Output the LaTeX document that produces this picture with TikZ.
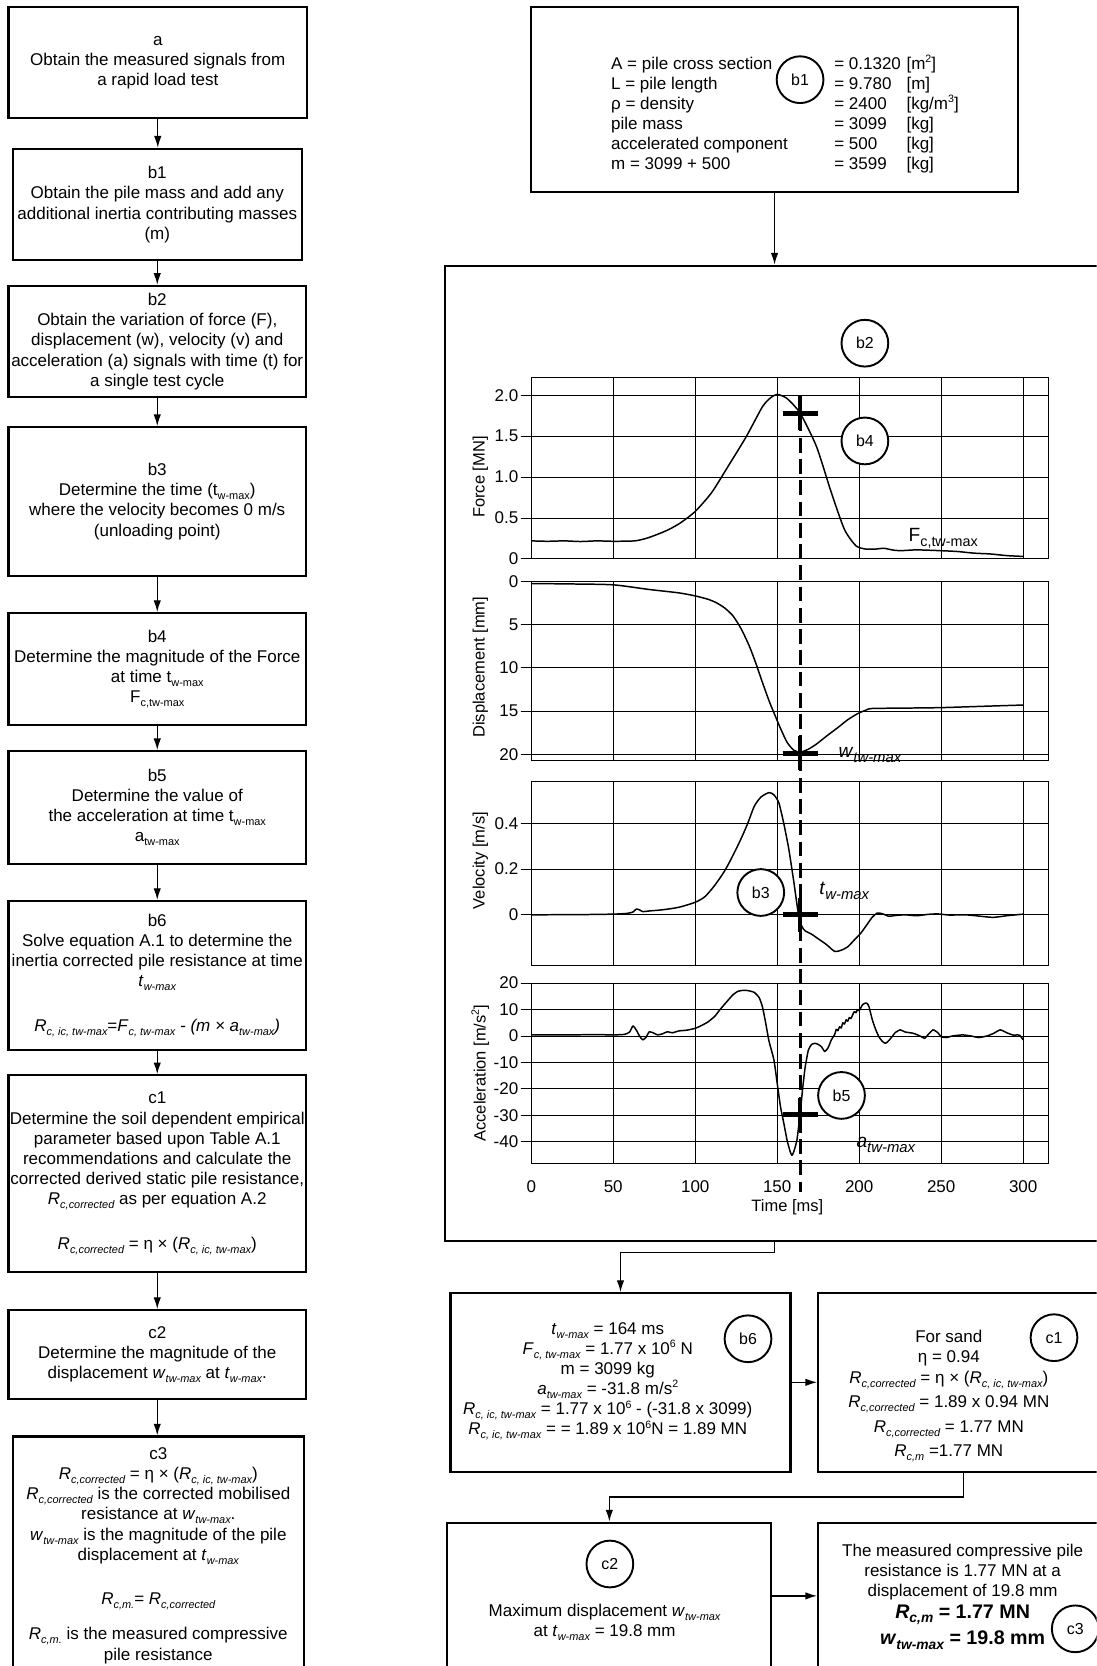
\documentclass[tikz,border=0pt]{standalone}
\usepackage{fontspec}
\setmainfont{Liberation Sans}
\usetikzlibrary{arrows.meta,calc}
\newcommand{\lo}[1]{\raisebox{-0.45ex}{\fontsize{10.3}{10.3}\selectfont #1}}
\newcommand{\il}[1]{\raisebox{-0.45ex}{\fontsize{10.3}{10.3}\selectfont\itshape #1}}
\newcommand{\hi}[1]{\raisebox{0.75ex}{\fontsize{10}{10}\selectfont #1}}
\newcommand{\sbs}[2]{\raisebox{-0.45ex}{\fontsize{#1}{#1}\selectfont #2}}
\begin{document}
\begin{tikzpicture}[x=1pt,y=-1pt,
  box/.style={draw, line width=2pt, align=center, inner sep=0pt, font=\fontsize{16}{19}\selectfont},
  txt/.style={align=center, inner sep=0pt, font=\fontsize{16}{19}\selectfont},
  ltxt/.style={anchor=base west, inner sep=0pt, font=\fontsize{16}{19}\selectfont},
  circ/.style={draw, fill=white, circle, line width=1.8pt, minimum size=44pt, inner sep=0pt, font=\fontsize{15}{15}\selectfont},
  arr/.style={line width=1.2pt, -{Latex[length=11pt,width=7pt]}},
  grd/.style={line width=0.8pt},
  crv/.style={line width=1.4pt, line join=round},
  tick/.style={inner sep=0pt, font=\fontsize{16}{16}\selectfont},
  ylab/.style={rotate=90, inner sep=0pt, font=\fontsize{15.5}{15.5}\selectfont},
  crossbar/.style={line width=4.5pt},
]
\useasboundingbox (0,0) rectangle (1032,1568);
\clip (0,0) rectangle (1032,1568);

% ---------------- left column ----------------
\node[box, minimum width=281pt, minimum height=104pt] (a) at (148.5,59) {a\\Obtain the measured signals from\\a rapid load test};
\node[box, minimum width=272pt, minimum height=105pt] (b1) at (148,192.5) {b1\\Obtain the pile mass and add any\\additional inertia contributing masses\\(m)};
\node[box, minimum width=280pt, minimum height=105pt] (b2) at (148,321.5) {b2\\Obtain the variation of force (F),\\displacement (w), velocity (v) and\\acceleration (a) signals with time (t) for\\a single test cycle};
\node[box, minimum width=280pt, minimum height=140pt] (b3) at (148,472) {b3\\Determine the time (t\lo{w-max})\\where the velocity becomes 0 m/s\\(unloading point)};
\node[box, minimum width=280pt, minimum height=105pt] (b4) at (148,629.5) {b4\\Determine the magnitude of the Force\\at time t\lo{w-max}\\F\lo{c,tw-max}};
\node[box, minimum width=280pt, minimum height=106pt] (b5) at (148,760) {b5\\Determine the value of\\the acceleration at time t\lo{w-max}\\a\lo{tw-max}};
\node[box, minimum width=280pt, minimum height=140pt] (b6) at (148,918) {b6\\Solve equation A.1 to determine the\\inertia corrected pile resistance at time\\\textit{t}\il{w-max}\\[23pt]\textit{R}\il{c, ic, tw-max}=\textit{F}\il{c, tw-max} \textit{- (m} \textit{×} \textit{a}\il{tw-max}\textit{)}};
\node[box, minimum width=280pt, minimum height=185pt] (c1) at (148,1104.5) {c1\\Determine the soil dependent empirical\\parameter based upon Table A.1\\recommendations and calculate the\\corrected derived static pile resistance,\\\textit{R}\il{c,corrected} as per equation A.2\\[23pt]\textit{R}\il{c,corrected} = η × (\textit{R}\il{c, ic, tw-max})};
\node[box, minimum width=280pt, minimum height=84pt] (c2) at (148,1275) {c2\\Determine the magnitude of the\\displacement \textit{w}\il{tw-max} at \textit{t}\il{w-max}.};
\node[box, minimum width=274pt, minimum height=224pt] (c3) at (149,1464) {c3\\\textit{R}\il{c,corrected} = η × (\textit{R}\il{c, ic, tw-max})\\\textit{R}\il{c,corrected} is the corrected mobilised\\resistance at \textit{w}\il{tw-max}.\\\textit{w}\il{tw-max} is the magnitude of the pile\\displacement at \textit{t}\il{w-max}\\[23pt]\textit{R}\il{c,m.}= \textit{R}\il{c,corrected}\\[14pt]\textit{R}\il{c,m.} is the measured compressive\\pile resistance};

\foreach \u/\v in {a/b1,b1/b2,b2/b3,b3/b4,b4/b5,b5/b6,b6/c1,c1/c2,c2/c3}
  \draw[arr] (\u.south) -- (\u.south |- \v.north);

% ---------------- top right box ----------------
\node[box, minimum width=458pt, minimum height=174pt] (b1box) at (729,94) {};
\foreach \l [count=\i from 0] in {A = pile cross section, L = pile length, ρ = density, pile mass, accelerated component, m = 3099 + 500}
  \node[ltxt] (pl\i) at (575,{65+19*\i}) {\l};
\foreach \l [count=\i from 0] in {= 0.1320, = 9.780, = 2400, = 3099, = 500, = 3599}
  \node[ltxt] (pv\i) at (785,{65+19*\i}) {\l};
\foreach \l [count=\i from 0] in {{[m\hi{2}]}, [m], {[kg/m\hi{3}]}, [kg], [kg], [kg]}
  \node[ltxt] (pu\i) at (853,{65+19*\i}) {\l};
\node[circ] (cb1) at (753,75) {b1};

% ---------------- plot box ----------------
\node[draw, line width=2pt, minimum width=625pt, minimum height=918pt, inner sep=0pt] (plotbox) at (731.5,709) {};
\draw[arr] (b1box.south) -- (b1box.south |- plotbox.north);

% Force panel
\begin{scope}[shift={(500pt,-526pt)}, x=1.5433pt, y=77pt]
  \foreach \t in {50,100,...,300} \draw[grd] (\t,0) -- (\t,2.22);
  \foreach \f in {0,0.5,1,1.5,2} \draw[grd] (-6.5,\f) -- (315.6,\f);
  \draw[grd] (0,0) rectangle (315.6,2.22);
  \foreach \f/\l [count=\i] in {0/0,0.5/0.5,1/1.0,1.5/1.5,2/2.0}
    \node[tick, anchor=east] (tF\i) at (-7.8,\f) {\l};
  \draw[crv] plot[smooth, tension=0.4] coordinates {(0,0.22) (10,0.215) (20,0.22) (30,0.212) (40,0.22) (50,0.215) (63,0.22) (70,0.25) (77,0.30) (84,0.36) (91,0.44) (100,0.58) (110,0.81) (120,1.13) (131,1.49) (141,1.86) (146,1.97) (150,2.01) (156,1.96) (164,1.78) (174,1.37) (183,0.81) (191,0.36) (198,0.16) (204,0.12) (210,0.12) (215,0.13) (220,0.11) (225,0.10) (235,0.11) (250,0.10) (260,0.09) (270,0.07) (280,0.06) (290,0.04) (300,0.03)};
\end{scope}
\node[ylab] (ylF) at (452,449) {Force [MN]};

% Displacement panel
\begin{scope}[shift={(500pt,-547pt)}, x=1.5433pt, y=-8.15pt]
  \foreach \t in {50,100,...,300} \draw[grd] (\t,0) -- (\t,20.7);
  \foreach \f in {0,5,10,15,20} \draw[grd] (-6.5,\f) -- (315.6,\f);
  \draw[grd] (0,0) rectangle (315.6,20.7);
  \foreach \f [count=\i] in {0,5,10,15,20}
    \node[tick, anchor=east] (tD\i) at (-7.8,\f) {\f};
  \draw[crv] plot[smooth, tension=0.4] coordinates {(0,0.27) (25,0.32) (50,0.42) (72,0.96) (90,1.35) (100,1.7) (108,2.1) (113,2.5) (118,3.1) (123,4.0) (128,5.5) (133,7.5) (137,9.5) (141,11.7) (145,13.8) (148,15.2) (152,17.0) (156,18.6) (160,19.5) (164,19.75) (169,19.4) (174,18.8) (180,17.9) (187,16.9) (193,16.0) (199,15.3) (204,14.9) (208,14.7) (230,14.65) (250,14.6) (275,14.45) (300,14.3)};
\end{scope}
\node[ylab] (ylD) at (452,628) {Displacement [mm]};

% Velocity panel
\begin{scope}[shift={(500pt,-861pt)}, x=1.5433pt, y=215pt]
  \foreach \t in {50,100,...,300} \draw[grd] (\t,-0.223) -- (\t,0.586);
  \foreach \f in {0,0.2,0.4} \draw[grd] (-6.5,\f) -- (315.6,\f);
  \draw[grd] (0,-0.223) rectangle (315.6,0.586);
  \foreach \f/\l [count=\i] in {0/0,0.2/0.2,0.4/0.4}
    \node[tick, anchor=east] (tV\i) at (-7.8,\f) {\l};
  \draw[crv] plot[smooth, tension=0.4] coordinates {(0,0) (30,0.001) (50,0.003) (58,0.006) (62,0.012) (64,0.025) (66,0.022) (68,0.014) (72,0.017) (80,0.022) (90,0.033) (100,0.055) (106,0.08) (112,0.13) (118,0.193) (123,0.26) (128,0.334) (132,0.40) (136,0.475) (140,0.515) (145,0.535) (148,0.525) (151,0.49) (154,0.40) (157,0.29) (160,0.15) (163,0.0) (165,-0.05) (167,-0.07) (171,-0.085) (175,-0.105) (180,-0.13) (185,-0.16) (189,-0.155) (193,-0.14) (197,-0.11) (201,-0.08) (205,-0.04) (208,-0.01) (211,0.008) (214,0.005) (218,-0.006) (222,-0.003) (228,0.0) (235,-0.004) (242,0.002) (248,0.004) (255,-0.001) (265,0.0) (275,-0.007) (282,-0.011) (290,-0.004) (300,0.003)};
\end{scope}
\node[ylab] (ylV) at (452,810) {Velocity [m/s]};

% Acceleration panel
\begin{scope}[shift={(500pt,-975pt)}, x=1.5433pt, y=2.485pt]
  \foreach \t in {50,100,...,300} \draw[grd] (\t,-48.3) -- (\t,20);
  \foreach \f in {20,10,0,-10,-20,-30,-40} \draw[grd] (-6.5,\f) -- (315.6,\f);
  \draw[grd] (0,-48.3) rectangle (315.6,20);
  \foreach \f [count=\i] in {20,10,0,-10,-20,-30,-40}
    \node[tick, anchor=east] (tA\i) at (-7.8,\f) {\f};
  \draw[crv] plot[smooth, tension=0.3] coordinates {(0,0.4) (20,0.4) (40,0.5) (50,0.4) (57,0.6) (60,1.5) (62,3.8) (64,2.3) (66,0) (68,-1.5) (70,-0.5) (72,1.6) (75,1) (77,0.4) (80,0.8) (83,1.6) (86,1.2) (90,1.9) (95,2.2) (100,2.9) (104,4) (108,5.4) (112,7.5) (115,9.9) (119,12.8) (123,15.6) (126,16.9) (128,17.2) (132,17.2) (136,16.5) (139,14.5) (141,11) (143,4.8) (145,-2) (148,-9.1) (150,-18) (152,-26.8) (154,-33) (156,-39.5) (158,-44) (159,-45.2) (160,-44) (162,-39.5) (164,-29.4) (165.5,-20) (167,-12) (169,-5.3) (171,-3.2) (173,-2.8) (175,-3.2) (177,-4.1) (179,-5.9) (181,-4.5) (183,-1.5) (185,0.5) (186,2.5) (187,2.0) (188,3.5) (189,3.0) (190,5) (191,4.5) (192,6.1) (193,5.6) (194,7) (195,6.6) (196,8) (197,9.2) (198,8.8) (199,10) (200,9.6) (202,11.8) (204,12.5) (205,12.2) (206,11) (208,6.1) (210,2.5) (212,-0.3) (214,-2) (216,-2.8) (218,-1.8) (220,-0.3) (222,1.3) (225,2.3) (228,1.5) (233,1.0) (237,0) (240,-0.9) (242,0.5) (245,2.3) (248,1.2) (250,-0.3) (253,-0.6) (257,0) (263,0.4) (268,0) (273,-0.6) (278,0) (282,1) (286,2.3) (290,1.2) (294,0.3) (296,0.4) (298,0.2) (300,-1.5)};
\end{scope}
\node[ylab] (ylA) at (452,1010) {Acceleration [m/s\hi{2}]};

\foreach \t [count=\i] in {0,50,100,150,200,250,300}
  \node[tick] (tT\i) at ({500+\t*1.5433},1117) {\t};
\node[inner sep=0pt, font=\fontsize{15.5}{15.5}\selectfont] (xlab) at (741,1136) {Time [ms]};

% dashed line and markers
\draw[line width=2.8pt, dash pattern=on 14pt off 6pt] (753,372) -- (753,1122);
\foreach \y in {389,709,861,1049} {
  \draw[crossbar] (736.5,\y) -- (769.5,\y);
  \draw[crossbar] (753,{\y-16}) -- (753,{\y+16});
}

\node[anchor=base west, inner sep=0pt, font=\fontsize{18}{18}\selectfont] (Flab) at (855,510) {F\sbs{13.5}{c,tw-max}};
\node[anchor=base west, inner sep=0pt, font=\fontsize{18}{18}\selectfont] (wlab) at (789,713) {\textit{w}\sbs{14}{\itshape tw-max}};
\node[anchor=base west, inner sep=0pt, font=\fontsize{18}{18}\selectfont] (tlab) at (771,842) {\textit{t}\sbs{14}{\itshape w-max}};
\node[anchor=base west, inner sep=0pt, font=\fontsize{18}{18}\selectfont] (alab) at (806,1080) {\textit{a}\sbs{14}{\itshape tw-max}};

\node[circ] (cb2) at (814,323) {b2};
\node[circ] (cb4) at (814,415) {b4};
\node[circ] (cb3) at (716,840) {b3};
\node[circ] (cb5) at (792,1031) {b5};

% ---------------- bottom right boxes ----------------
\node[box, minimum width=320pt, minimum height=168pt] (b6box) at (584,1301) {};
\node[box, minimum width=274pt, minimum height=168pt] (c1box) at (907,1301) {};
\node[box, minimum width=305pt, minimum height=138pt] (c2box) at (573.5,1502) {};
\node[box, minimum width=274pt, minimum height=138pt] (c3box) at (907,1502) {};

\draw[arr] (plotbox.south -| b1box.south) -- ++(0,10) -| (b6box.north);
\draw[arr] (b6box.east) -- (c1box.west);
\draw[arr] (c1box.south) -- ++(0,23) -| (c2box.north);
\draw[arr] (c2box.east) -- (c3box.west);

\node[txt] (b6txt) at (572,1300) {\textit{t}\il{w-max} = 164 ms\\\textit{F}\il{c, tw-max} = 1.77 x 10\hi{6} N\\m = 3099 kg\\\textit{a}\il{tw-max} = -31.8 m/s\hi{2}\\\textit{R}\il{c, ic, tw-max} = 1.77 x 10\hi{6} - (-31.8 x 3099)\\\textit{R}\il{c, ic, tw-max} = = 1.89 x 10\hi{6}N = 1.89 MN};
\node[circ] (cb6) at (704,1260) {b6};

\node[txt] (c1txt) at (893,1314) {For sand\\η = 0.94\\[1pt]\textit{R}\il{c,corrected} = η × (\textit{R}\il{c, ic, tw-max})\\[3pt]\textit{R}\il{c,corrected} = 1.89 x 0.94 MN\\[5pt]\textit{R}\il{c,corrected} = 1.77 MN\\[4pt]\textit{R}\il{c,m} =1.77 MN};
\node[circ] (cc1) at (992,1259) {c1};

\node[circ] (cc2) at (574,1472) {c2};
\node[txt] (c2txt) at (569,1527) {Maximum displacement \textit{w}\il{tw-max}\\at \textit{t}\il{w-max} = 19.8 mm};

\node[txt] (c3txt) at (906,1503) {The measured compressive pile\\resistance is 1.77 MN at a\\displacement of 19.8 mm\\[1pt]{\fontsize{18.5}{19}\selectfont\bfseries\textit{R}\sbs{13}{\bfseries\itshape c,m} = 1.77 MN}\\[5pt]{\fontsize{18.5}{19}\selectfont\bfseries\textit{w}\sbs{13}{\bfseries\itshape tw-max} = 19.8 mm}};
\node[circ] (cc3) at (1012,1533) {c3};
\end{tikzpicture}
\end{document}
